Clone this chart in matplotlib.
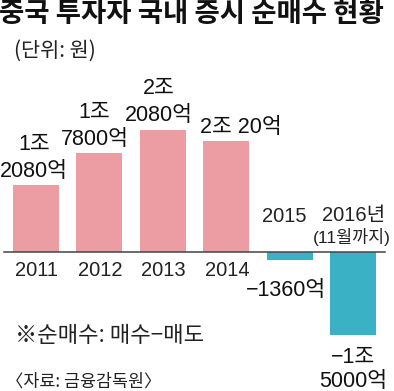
import matplotlib
matplotlib.use('Agg')
import matplotlib.pyplot as plt
from matplotlib import font_manager

names = {f.name for f in font_manager.fontManager.ttflist}
NARROW = 'Liberation Sans Narrow' if 'Liberation Sans Narrow' in names else 'Liberation Sans'
KR = 'Noto Sans CJK KR'
FAM = [NARROW, KR, 'DejaVu Sans']

# ---- data (unit: 억원) ----
years = ['2011', '2012', '2013', '2014', '2015', '2016년']
values = [12080, 17800, 22080, 20020, -1360, -15000]
value_labels = [['1조', '2080억'], ['1조', '7800억'], ['2조', '2080억'],
                ['2조 20억'], ['−1360억'], ['−1조', '5000억']]
title = '중국 투자자 국내 증시 순매수 현황'
unit = '(단위: 원)'
note = '※순매수: 매수−매도'
source = '〈자료: 금융감독원〉'
sub2016 = '(11월까지)'

# ---- layout ----
W, H = 394, 391
PITCH = 63.4       # px between bar centres
X0 = 36            # px centre of first bar
BASE = 252         # px from top for zero line
SCALE = 0.00554    # px per 억
PT = 72 / 100      # points per pixel

fig = plt.figure(figsize=(W / 100, H / 100), dpi=100)
ax = fig.add_axes([0, 0, 1, 1])
ax.set_xlim(-X0 / PITCH, (W - X0) / PITCH)
ax.set_ylim(-(H - BASE) / SCALE, BASE / SCALE)
ax.axis('off')

pos_color, neg_color = '#EC9CA3', '#3AB1C4'
xs = list(range(len(values)))
ax.bar(xs, values, width=46 / PITCH,
       color=[pos_color if v > 0 else neg_color for v in values])
ax.axhline(0, xmin=4 / W, xmax=385 / W, color='#444444', lw=1.1)

# value labels
label_dx = [-2, -5, -4, 15, -4, 0]
neg_gap = {4: 31, 5: 22}
VFS = 15.5
for i, (v, lines) in enumerate(zip(values, value_labels)):
    dx = label_dx[i] * PT
    if v > 0:
        for k, line in enumerate(reversed(lines)):
            off = 14 + 27 * k
            ax.annotate(line, xy=(i, v), xytext=(dx, off * PT), textcoords='offset points',
                        ha='center', va='center', fontsize=VFS, family=FAM, color='#111111')
    else:
        for k, line in enumerate(lines):
            off = -(neg_gap[i] + 24 * k)
            ax.annotate(line, xy=(i, v), xytext=(dx, off * PT), textcoords='offset points',
                        ha='center', va='center', fontsize=VFS, family=FAM, color='#111111')

# category labels
TFS = 14.5
for i, (yr, v) in enumerate(zip(years, values)):
    if v > 0:
        ax.annotate(yr, xy=(i, 0), xytext=(1 * PT, -19 * PT), textcoords='offset points',
                    ha='center', va='center', fontsize=TFS, family=FAM, color='#222222')
    else:
        dx = -5 if i == 4 else 1
        ax.annotate(yr, xy=(i, 0), xytext=(dx * PT, 36 * PT), textcoords='offset points',
                    ha='center', va='center', fontsize=TFS, family=FAM, color='#222222')
ax.annotate(sub2016, xy=(5, 0), xytext=(-1 * PT, 14.5 * PT), textcoords='offset points',
            ha='center', va='center', fontsize=12.5, family=FAM, color='#222222')

# texts
fig.text(-1 / W, 1 - 14 / H, title, fontsize=19.8, fontweight='bold', family=[KR],
         ha='left', va='center', color='#111111')
fig.text(14 / W, 1 - 51 / H, unit, fontsize=15, family=[KR], ha='left', va='center',
         color='#222222')
fig.text(15 / W, 1 - 335 / H, note, fontsize=16, family=[KR], ha='left', va='center',
         color='#222222')
fig.text(6 / W, 1 - 382 / H, source, fontsize=12.5, family=[KR], ha='left', va='center',
         color='#222222')

fig.savefig('out.png', dpi=100, facecolor='white')
